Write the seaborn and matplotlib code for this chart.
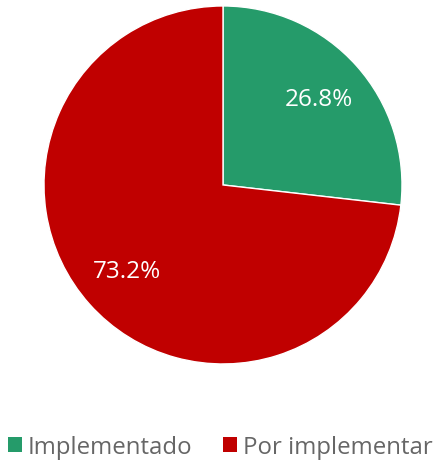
import matplotlib.pyplot as plt
import seaborn as sns
from matplotlib.patches import Patch

sns.set_theme(style="white")
plt.rcParams['font.family'] = ['Open Sans', 'DejaVu Sans']

etiquetas = ['Implementado', 'Por implementar']
valores = [26.8, 73.2]
colores = ['#259B6A', '#C00000']

fig = plt.figure(figsize=(4.33, 4.64), dpi=100)
ax = fig.add_axes([0.1016, 0.2134, 0.8268, 0.7716])

wedges, textos, autotextos = ax.pie(valores, colors=colores, startangle=90, counterclock=False,
                                    autopct='%.1f%%', pctdistance=0.72)
for t in autotextos:
    t.set_color('white')
    t.set_fontsize(17.5)
ax.set_xlim(-1, 1)
ax.set_ylim(-1, 1)
ax.set_aspect('equal')

handles = [Patch(facecolor=c, edgecolor='none') for c in colores]
fig.legend(handles, etiquetas, loc='center', bbox_to_anchor=(0.509, 1 - 448 / 464), ncol=2,
           frameon=False, fontsize=17.3, labelcolor='#666666', handlelength=0.55, handleheight=0.55,
           handletextpad=0.25, columnspacing=1.3)

plt.savefig('out.png', dpi=100)
